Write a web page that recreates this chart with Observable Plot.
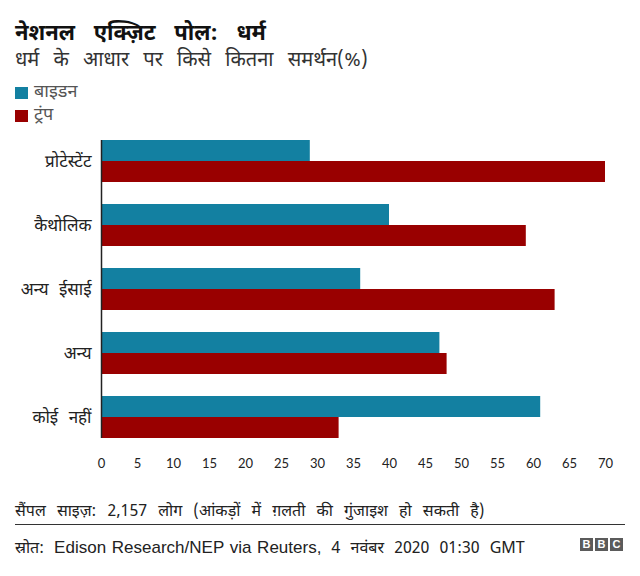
<!DOCTYPE html>
<html>
<head>
<meta charset="utf-8">
<script src="https://cdn.jsdelivr.net/npm/d3@7"></script>
<script src="https://cdn.jsdelivr.net/npm/@observablehq/plot@0.6"></script>
<style>
  body { margin: 0; background: #fff; font-family: "Noto Sans Devanagari", "Lohit Devanagari", "Noto Sans", "Liberation Sans", sans-serif; color: #222; }
  #wrap { position: relative; width: 640px; height: 576px; overflow: hidden; }
  .abs { position: absolute; white-space: nowrap; }
  #title { left: 15px; top: 20px; font-size: 22px; font-weight: bold; color: #111; word-spacing: 13px; }
  #subtitle { left: 15px; top: 48px; font-size: 20px; color: #333; word-spacing: 9px; }
  .legend { left: 15px; font-size: 18px; color: #555; display: flex; align-items: center; }
  .sw { width: 13px; height: 12px; margin-right: 6px; }
  #chart { left: 0; top: 130px; }
  #chart svg text { word-spacing: 6px; }
  #sample { left: 15px; top: 502px; font-size: 16px; word-spacing: 7px; }
  #rule { left: 15px; top: 524px; width: 610px; height: 1px; background: #333; }
  #source { left: 15px; top: 538px; font-size: 16px; word-spacing: 6px; }
  #source .lat { font-family: "Liberation Sans", sans-serif; font-size: 17px; word-spacing: 1px; }
  #bbc { right: 17px; top: 538px; display: flex; gap: 2px; }
  #bbc span { width: 13px; height: 13px; background: #5b5b5b; color: #fff; font: bold 11px "Liberation Sans", sans-serif; text-align: center; line-height: 13px; }
</style>
</head>
<body>
<div id="wrap">
  <div class="abs" id="title">नेशनल एक्ज़िट पोल: धर्म</div>
  <div class="abs" id="subtitle">धर्म के आधार पर किसे कितना समर्थन(%)</div>
  <div class="abs legend" id="leg0" style="top:81px"></div>
  <div class="abs legend" id="leg1" style="top:104px"></div>
  <div class="abs" id="chart"></div>
  <div class="abs" id="sample">सैंपल साइज़: 2,157 लोग (आंकड़ों में ग़लती की गुंजाइश हो सकती है)</div>
  <div class="abs" id="rule"></div>
  <div class="abs" id="source">स्रोत: <span class="lat">Edison Research/NEP via Reuters,</span> 4 नवंबर 2020 01:30 GMT</div>
  <div class="abs" id="bbc"><span>B</span><span>B</span><span>C</span></div>
</div>
<script>
// Religion groups, top to bottom
const categories = ["प्रोटेस्टेंट", "कैथोलिक", "अन्य ईसाई", "अन्य", "कोई नहीं"];
// Share of each group's vote (%)
const biden = [29, 40, 36, 47, 61];
const trump = [70, 59, 63, 48, 33];
const candidates = ["बाइडन", "ट्रंप"];
const colors = ["#1380a1", "#990000"];
const xTicks = [0, 5, 10, 15, 20, 25, 30, 35, 40, 45, 50, 55, 60, 65, 70];

const rows = categories.flatMap((c, i) => [
  {category: c, candidate: candidates[0], value: biden[i]},
  {category: c, candidate: candidates[1], value: trump[i]}
]);

// Legend
candidates.forEach((name, i) => {
  const el = document.getElementById("leg" + i);
  el.innerHTML = `<div class="sw" style="background:${colors[i]}"></div><span>${name}</span>`;
});

// Layout: each group is a band, split in two for the paired bars
const marginTop = 10, marginBottom = 42, height = 350;
const paddingInner = 22 / 64;
const innerH = height - marginTop - marginBottom;
const step = innerH / (categories.length - paddingInner);
const half = step * (1 - paddingInner) / 2;

const chart = Plot.plot({
  width: 640,
  height,
  marginTop,
  marginBottom,
  marginLeft: 101,
  marginRight: 35,
  style: {fontFamily: "\"Noto Sans Devanagari\", \"Lohit Devanagari\", \"Noto Sans\", sans-serif", color: "#222", background: "transparent"},
  x: {domain: [0, 70], label: null},
  y: {domain: categories, paddingInner, paddingOuter: 0, label: null},
  color: {domain: candidates, range: colors},
  marks: [
    Plot.barX(rows.filter(d => d.candidate === candidates[0]), {x: "value", y: "category", fill: "candidate", insetBottom: half}),
    Plot.barX(rows.filter(d => d.candidate === candidates[1]), {x: "value", y: "category", fill: "candidate", insetTop: half}),
    Plot.axisX({ticks: xTicks, tickSize: 0, tickPadding: 20, fontSize: 13, label: null, fontFamily: "Lato, sans-serif"}),
    Plot.axisY({tickSize: 0, tickPadding: 10, fontSize: 17, label: null}),
    Plot.ruleX([0], {stroke: "#222", strokeWidth: 1.5})
  ]
});
document.getElementById("chart").appendChild(chart);
</script>
</body>
</html>
